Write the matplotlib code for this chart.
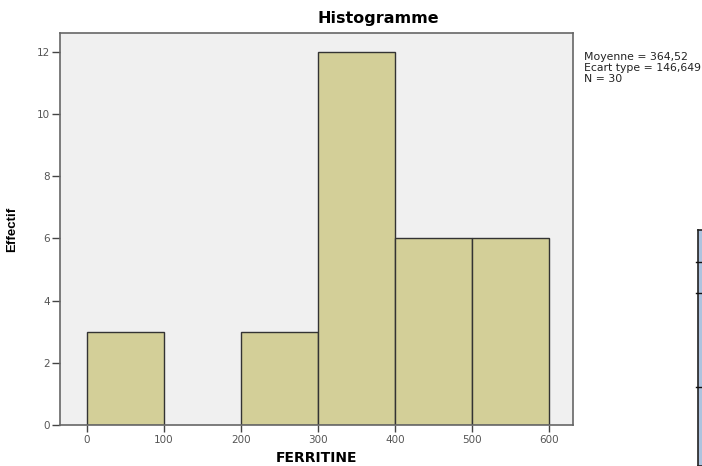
import numpy as np
import matplotlib.pyplot as plt

plt.rcParams['font.family'] = ['DejaVu Sans']

# histogram data
edges = [0, 100, 200, 300, 400, 500, 600]
counts = [3, 0, 3, 12, 6, 6]
xticks = [0, 100, 200, 300, 400, 500, 600]
yticks = [0, 2, 4, 6, 8, 10, 12]
stats = ["Moyenne = 364,52", "Ecart type = 146,649", "N = 30"]

fig = plt.figure(figsize=(7.02, 4.66), dpi=100)
ax = fig.add_axes([60/702, 41/466, 513/702, 392/466])
ax.set_facecolor('#f0f0f0')

lefts = np.array(edges[:-1])
widths = np.diff(edges)
for l, w, c in zip(lefts, widths, counts):
    if c > 0:
        ax.bar(l, c, width=w, align='edge', color='#d3cf98',
               edgecolor='#333333', linewidth=1.0)

ax.set_xlim(-35, 631)
ax.set_ylim(0, 12.61)
ax.set_xticks(xticks)
ax.set_yticks(yticks)
ax.tick_params(direction='out', width=1, colors='#444444',
               labelsize=7.5, labelcolor='#555555')
ax.tick_params(axis='x', length=5, pad=2.5)
ax.tick_params(axis='y', length=6, pad=1)
for s in ax.spines.values():
    s.set_color('#666666')
    s.set_linewidth(1.2)

ax.set_xlabel("FERRITINE", fontsize=10, fontweight='bold', labelpad=4)
ax.set_ylabel("Effectif", fontsize=9.5, fontweight='bold', labelpad=13.5,
              family=['Liberation Sans', 'DejaVu Sans'])
fig.text(378/702, 1 - 19/466, "Histogramme", fontsize=11.5, fontweight='bold',
         ha='center', va='center')

fig.text(584/702, 1 - 52/466, "\n".join(stats), fontsize=7.8,
         ha='left', va='top', linespacing=1.12, color='#222222')

# fragment of a neighbouring panel at the right edge
side = fig.add_axes([698/702, 0, 10/702, 236/466])
side.set_facecolor('#adc3df')
side.set_xticks([])
side.set_yticks([])
for s in side.spines.values():
    s.set_color('#222222')
    s.set_linewidth(1.2)
for yy in [204, 173, 79]:
    fig.add_artist(plt.Line2D([696/702, 702/702], [yy/466, yy/466],
                              color='#111111', linewidth=1))

fig.savefig('out.png', dpi=100)
